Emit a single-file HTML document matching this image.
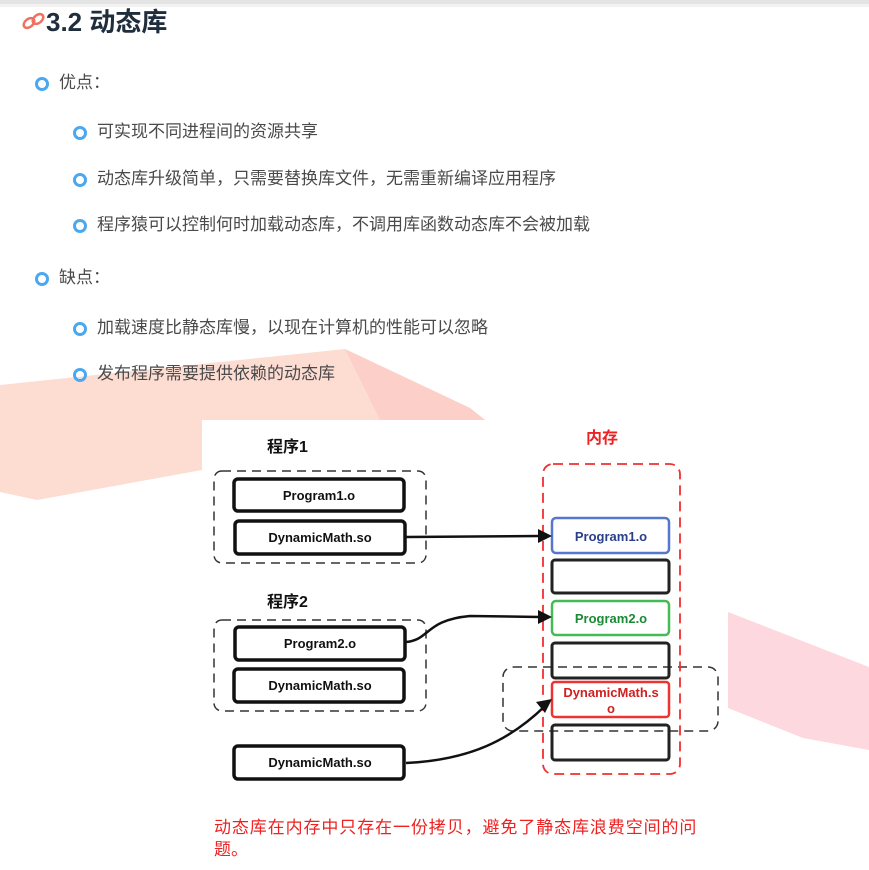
<!DOCTYPE html>
<html><head><meta charset="utf-8"><style>
body{margin:0;width:869px;height:870px;background:#fff;position:relative;overflow:hidden;font-family:"Liberation Sans","Noto Sans CJK SC",sans-serif}
.t{position:absolute;font-size:17px;color:#4a4a4a;white-space:nowrap;line-height:18px}
.b{position:absolute;width:8px;height:8px;border:3px solid #4aa8f0;border-radius:50%}
</style></head><body>
<svg width="869" height="870" style="position:absolute;left:0;top:0" font-family="Liberation Sans, Noto Sans CJK SC, sans-serif">
<rect x="0" y="0" width="869" height="4" fill="#e4e4e4"/>
<rect x="0" y="4" width="869" height="3" fill="#f2f2f2"/>
<polygon points="0,385 345,349 470,408 485,420 202,420 202,470 37,500 0,492" fill="#fddcd2"/>
<polygon points="345,349 470,408 485,420 380,420" fill="#fcd0c8"/>
<polygon points="728,612 869,667 869,750 803,738 728,708" fill="#fdd8de"/>
<rect x="202" y="420" width="518" height="445" fill="#fff"/>
<g stroke="#333" fill="none" stroke-width="1.5" stroke-dasharray="9,6">
<rect x="214" y="471" width="212" height="92" rx="8"/>
<rect x="214" y="620" width="212" height="91" rx="8"/>
<rect x="503" y="667" width="215" height="64" rx="10"/>
</g>
<rect x="543" y="464" width="137" height="310" rx="10" fill="none" stroke="#f03030" stroke-width="1.8" stroke-dasharray="10,6"/>
<g stroke="#111" stroke-width="3.5" fill="#fff">
<rect x="234" y="479" width="170" height="32" rx="4"/>
<rect x="235" y="521" width="170" height="33" rx="4"/>
<rect x="235" y="627" width="170" height="33" rx="4"/>
<rect x="234" y="669" width="170" height="33" rx="4"/>
<rect x="234" y="746" width="170" height="33" rx="4"/>
</g>
<g stroke="#222" stroke-width="3" fill="none">
<rect x="552" y="560" width="117" height="33" rx="3"/>
<rect x="552" y="643" width="117" height="35" rx="3"/>
<rect x="552" y="725" width="117" height="35" rx="3"/>
</g>
<rect x="552" y="518" width="117" height="35" rx="4" fill="#fff" stroke="#5577cc" stroke-width="2.5"/>
<rect x="552" y="601" width="117" height="34" rx="4" fill="#fff" stroke="#44bb55" stroke-width="2.5"/>
<rect x="552" y="682" width="117" height="35" rx="3" fill="#fff" stroke="#ee3333" stroke-width="2.5"/>
<g fill="#111" stroke="#111" stroke-width="2.5">
<path d="M406,537 L540,536" fill="none"/><polygon points="552,536 538,529 538,543" stroke="none"/>
<path d="M406,642 C430,640 425,620 470,616 L540,617" fill="none"/><polygon points="552,617 538,610 538,624" stroke="none"/>
<path d="M406,763 C470,760 510,740 545,706" fill="none"/><polygon points="552,699 536,702 545,713" stroke="none"/>
</g>
<g font-weight="bold" font-size="13" text-anchor="middle" fill="#111">
<text x="319" y="500">Program1.o</text>
<text x="320" y="542">DynamicMath.so</text>
<text x="320" y="648">Program2.o</text>
<text x="320" y="690">DynamicMath.so</text>
<text x="320" y="767">DynamicMath.so</text>
<text x="611" y="541" fill="#2a3f8a">Program1.o</text>
<text x="611" y="623" fill="#1a8a35">Program2.o</text>
<text x="611" y="697" fill="#d02020">DynamicMath.s</text>
<text x="611" y="713" fill="#d02020">o</text>
</g>
<g font-weight="bold" font-size="16" fill="#111">
<text x="267" y="452">程序1</text>
<text x="267" y="607">程序2</text>
<text x="586" y="443" fill="#ee2222">内存</text>
</g>
<text x="214" y="833" font-size="17" letter-spacing="0.9" fill="#ee2222">动态库在内存中只存在一份拷贝，避免了静态库浪费空间的问</text>
<text x="214" y="855" font-size="17" fill="#ee2222">题。</text>
<g fill="none" stroke="#f07060" stroke-width="2.5"><ellipse cx="29" cy="23" rx="6" ry="4" transform="rotate(-40 29 23)"/><ellipse cx="38" cy="19" rx="6" ry="4" transform="rotate(-40 38 19)"/></g>
<text x="46" y="31" font-size="26" font-weight="bold" fill="#1f2d3d">3.2 动态库</text>
</svg>
<div class="b" style="left:35px;top:77px"></div><div class="t" style="left:59px;top:74px">优点：</div>
<div class="b" style="left:73px;top:126px"></div><div class="t" style="left:97px;top:123px">可实现不同进程间的资源共享</div>
<div class="b" style="left:73px;top:173px"></div><div class="t" style="left:97px;top:170px">动态库升级简单，只需要替换库文件，无需重新编译应用程序</div>
<div class="b" style="left:73px;top:219px"></div><div class="t" style="left:97px;top:216px">程序猿可以控制何时加载动态库，不调用库函数动态库不会被加载</div>
<div class="b" style="left:35px;top:272px"></div><div class="t" style="left:59px;top:269px">缺点：</div>
<div class="b" style="left:73px;top:322px"></div><div class="t" style="left:97px;top:319px">加载速度比静态库慢，以现在计算机的性能可以忽略</div>
<div class="b" style="left:73px;top:368px"></div><div class="t" style="left:97px;top:365px">发布程序需要提供依赖的动态库</div>
</body></html>
